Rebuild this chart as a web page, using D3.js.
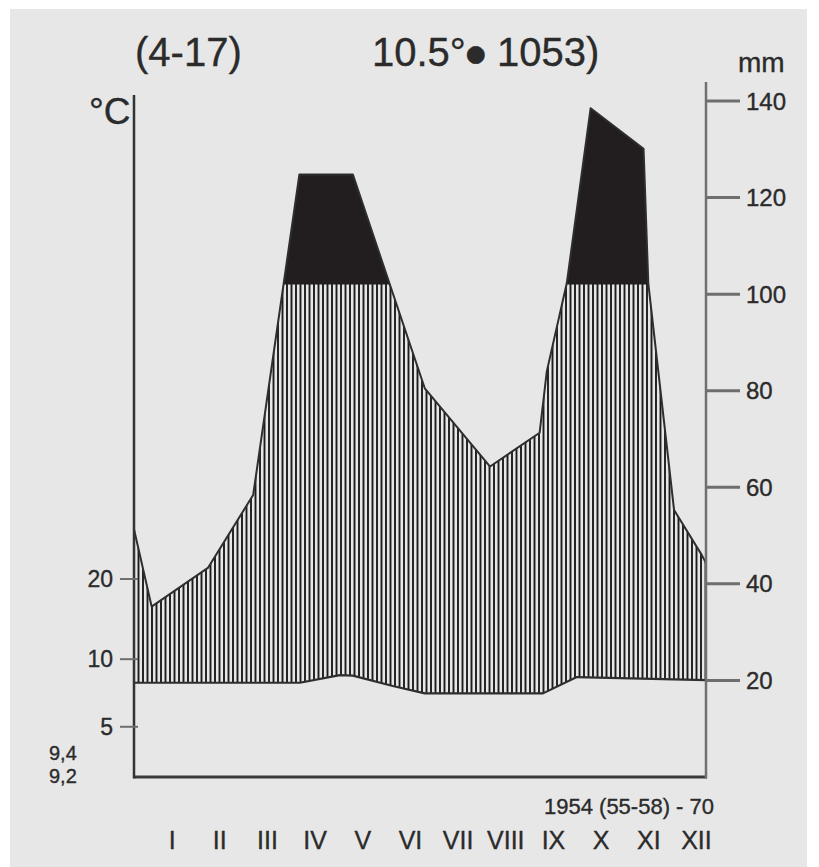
<!DOCTYPE html>
<html>
<head>
<meta charset="utf-8">
<script src="https://cdn.jsdelivr.net/npm/d3@7"></script>
<style>
  html, body { margin: 0; padding: 0; background: #ffffff; }
  svg { display: block; }
  text { font-family: "Liberation Sans", Arial, Helvetica, sans-serif; fill: #2b2b2b; stroke: #2b2b2b; stroke-width: 0.35; }
</style>
</head>
<body>
<svg id="chart" width="819" height="867"></svg>
<script>
// ---------------- DATA ----------------
const months = ["I", "II", "III", "IV", "V", "VI", "VII", "VIII", "IX", "X", "XI", "XII"];

// precipitation curve: position along the year (month units, 0 = 1 Jan, 12 = 31 Dec) and mm
const precipPos = [0, 0.37, 1.55, 2.50, 3.47, 4.59, 6.10, 7.47, 8.51, 8.66, 9.08, 9.58, 10.69, 10.79, 11.33, 11.91, 12];
const precipMm  = [51.3, 35.3, 43.3, 58.4, 124.8, 124.8, 80.5, 64.3, 71.3, 84.0, 102.3, 138.5, 130.1, 102.2, 55.3, 46.0, 44.3];

// temperature curve (°C), same position units
const tempPos = [0, 3.48, 4.32, 4.59, 5.43, 6.10, 8.58, 9.29, 12];
const tempC   = [9.76, 9.76, 10.55, 10.5, 9.42, 8.66, 8.66, 10.35, 10.04];

// right axis (mm)
const mmTicks = [20, 40, 60, 80, 100, 120, 140];
// left axis labels as printed, and where they sit on the temperature scale (°C)
const tempTickLabels = ["20", "10", "5"];
const tempTickAt     = [20.5, 12.2, 5.2];

const wetThreshold = 102;   // mm: above this the curve is filled solid
const titleLeft = "(4-17)";
const titleMean = "10.5°";
const titleSum = " 1053)";
const extremeLabels = ["9,4", "9,2"];
const periodLabel = "1954 (55-58) - 70";

// ---------------- LAYOUT ----------------
const svg = d3.select("#chart");
const W = 819, H = 867;
const L = 134, R = 706, B = 777, T = 101;

svg.append("rect").attr("x", 10).attr("y", 9).attr("width", 797).attr("height", H - 9).attr("fill", "#e7e7e7");

const x = d3.scaleLinear().domain([0, 12]).range([L, R]);
const yP = d3.scaleLinear().domain([0, 140]).range([B, T]);
const yT = d3.scaleLinear().domain([0, 70]).range([B, T]);   // 10 °C = 20 mm

const precip = precipPos.map((p, i) => [p, precipMm[i]]);
const temp = tempPos.map((p, i) => [p, tempC[i]]);

const precipXY = precip.map(d => [x(d[0]), yP(d[1])]);
const tempXY = temp.map(d => [x(d[0]), yT(d[1])]);

const defs = svg.append("defs");
const humidPoly = precipXY.concat(tempXY.slice().reverse());
defs.append("clipPath").attr("id", "humid")
  .append("path").attr("d", d3.line()(humidPoly) + "Z");
defs.append("clipPath").attr("id", "above")
  .append("rect").attr("x", L).attr("y", 0).attr("width", R - L).attr("height", yP(wetThreshold));

// hatching
const hatch = svg.append("g").attr("clip-path", "url(#humid)");
hatch.selectAll("line").data(d3.range(L + 4.5, R, 4.5)).join("line")
  .attr("x1", d => d).attr("x2", d => d)
  .attr("y1", yP(150)).attr("y2", B)
  .attr("stroke", "#1c1c1c").attr("stroke-width", 1.9);

// solid (very wet) part
svg.append("path")
  .attr("clip-path", "url(#above)")
  .attr("d", d3.area().x(d => x(d[0])).y0(B).y1(d => yP(d[1]))(precip))
  .attr("fill", "#221e1f");

// curves
svg.append("path").attr("d", d3.line().x(d => x(d[0])).y(d => yP(d[1]))(precip))
  .attr("fill", "none").attr("stroke", "#2e2e2e").attr("stroke-width", 2).attr("stroke-linejoin", "round");
svg.append("path").attr("d", d3.line().x(d => x(d[0])).y(d => yT(d[1]))(temp))
  .attr("fill", "none").attr("stroke", "#2e2e2e").attr("stroke-width", 2.2).attr("stroke-linejoin", "round");

// frame: bottom + left axis
svg.append("line").attr("x1", L).attr("x2", R + 1).attr("y1", B).attr("y2", B)
  .attr("stroke", "#3a3a3a").attr("stroke-width", 3);
svg.append("line").attr("x1", L).attr("x2", L).attr("y1", 95).attr("y2", B + 1.5)
  .attr("stroke", "#333").attr("stroke-width", 2.5);

// right axis (mm)
svg.append("line").attr("x1", R).attr("x2", R).attr("y1", 82).attr("y2", B + 1.5)
  .attr("stroke", "#707070").attr("stroke-width", 2.5);
const rt = svg.append("g");
rt.selectAll("line").data(mmTicks).join("line")
  .attr("x1", R).attr("x2", R + 34).attr("y1", d => yP(d)).attr("y2", d => yP(d))
  .attr("stroke", "#6e6e6e").attr("stroke-width", 3);
rt.selectAll("text").data(mmTicks).join("text")
  .attr("x", R + 40).attr("y", d => yP(d) + 8.5)
  .attr("font-size", 24).text(d => d);

// left axis (°C)
const lt = svg.append("g");
lt.selectAll("line").data(tempTickAt).join("line")
  .attr("x1", L - 14).attr("x2", L + 4).attr("y1", d => yT(d)).attr("y2", d => yT(d))
  .attr("stroke", "#6e6e6e").attr("stroke-width", 2);
lt.selectAll("text").data(tempTickAt).join("text")
  .attr("x", L - 21).attr("y", d => yT(d) + 8).attr("text-anchor", "end")
  .attr("font-size", 23).text((d, i) => tempTickLabels[i]);

svg.selectAll("text.ext").data(extremeLabels).join("text").attr("class", "ext")
  .attr("x", 49).attr("y", (d, i) => 760 + i * 23).attr("font-size", 20).text(d => d);

// unit labels
svg.append("text").attr("x", 89).attr("y", 124).attr("font-size", 37).text("°C");
svg.append("text").attr("x", 738).attr("y", 72).attr("font-size", 28).text("mm");

// title
svg.append("text").attr("x", 135).attr("y", 66).attr("font-size", 40).text(titleLeft);
const t2 = svg.append("text").attr("x", 372).attr("y", 66).attr("font-size", 40);
t2.append("tspan").text(titleMean);
t2.append("tspan").attr("font-size", 23).attr("dy", -5).attr("font-family", "DejaVu Sans").text("●");
t2.append("tspan").attr("dy", 5).text(titleSum);

// period
svg.append("text").attr("x", 714).attr("y", 814).attr("text-anchor", "end")
  .attr("font-size", 22).text(periodLabel);

// months
svg.selectAll("text.mon").data(months).join("text").attr("class", "mon")
  .attr("x", (d, i) => x(i + 0.8)).attr("y", 849).attr("text-anchor", "middle")
  .attr("font-size", 25).text(d => d);
</script>
</body>
</html>
